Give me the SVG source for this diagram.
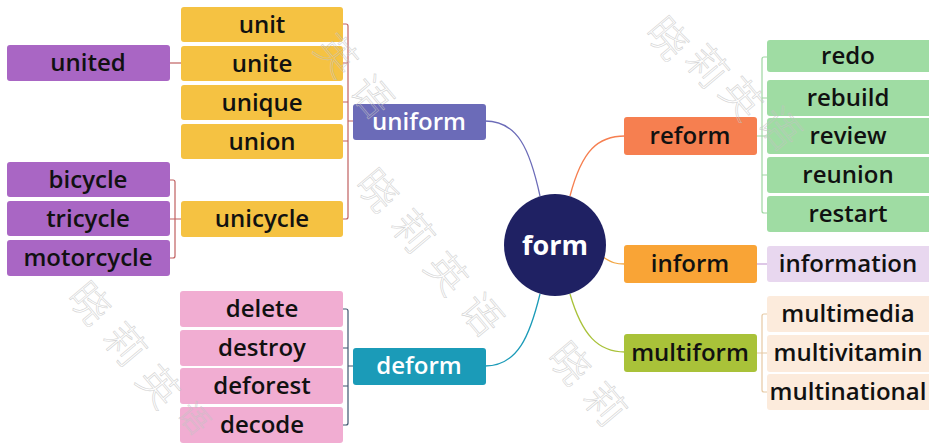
<svg xmlns="http://www.w3.org/2000/svg" width="929" height="444" viewBox="0 0 929 444">
<style>
.t{font-family:"Open Sans","Liberation Sans",sans-serif;font-weight:600;font-size:24px;text-anchor:middle;fill:#111}
.w{fill:#fff}
.c{fill:none;stroke-width:1.3}
.wm{font-family:"Noto Sans CJK SC",sans-serif;font-size:40px;font-weight:300;fill:none;stroke:#c4c4c4;stroke-width:0.6;opacity:0.75;text-anchor:middle}
</style>
<rect width="929" height="444" fill="#fff"/>
<g id="connectors">
<path class="c" stroke="#6b6bb8" d="M485,121 C518,121 530,150 540,196"/>
<path class="c" stroke="#1b9bb8" d="M485,366 C518,366 530,335 540,294"/>
<path class="c" stroke="#f67f50" d="M570,196 C582,150 598,136 625,136"/>
<path class="c" stroke="#f2a541" d="M603,257 C612,263 616,264 625,264"/>
<path class="c" stroke="#a9c239" d="M570,294 C582,335 598,352 625,352"/>
<g stroke="#c06060" fill="none" stroke-width="1.2">
<path d="M343,24 H346 Q348,24 348,26 V217 Q348,219 346,219 H343 M343,63 H348 M343,102 H348 M343,141 H348 M348,121 H353"/>
<path d="M170,180 H173 Q175,180 175,182 V256 Q175,258 173,258 H170 M170,219 H181"/>
<path d="M170,63 H181"/>
</g>
<path stroke="#3f5570" fill="none" stroke-width="1.2" d="M343,309 H346 Q348,309 348,311 V423 Q348,425 346,425 H343 M343,348 H348 M343,386 H348 M348,366 H353"/>
<path stroke="#9fd6a2" fill="none" stroke-width="1.2" d="M767,57 H764 Q762,57 762,59 V211 Q762,213 764,213 H767 M762,98 H767 M762,136 H767 M762,175 H767 M757,136 H762"/>
<path stroke="#c9a3d8" fill="none" stroke-width="1.2" d="M757,264 H767"/>
<path stroke="#e6c9a4" fill="none" stroke-width="1.2" d="M767,314 H764 Q762,314 762,316 V390 Q762,392 764,392 H767 M757,353 H767"/>
</g>
<g id="form"><circle cx="555" cy="245" r="51" fill="#1f2163"/><text class="t w" x="555" y="255" style="font-size:27px;font-weight:700">form</text></g>
<g id="uniform"><rect x="353" y="104" width="133" height="36" rx="3" fill="#6b6bb8"/><text class="t w" x="419" y="130">uniform</text></g>
<g id="deform"><rect x="353" y="348" width="133" height="37" rx="3" fill="#1b9bb8"/><text class="t w" x="419" y="374">deform</text></g>
<g id="reform"><rect x="624" y="117" width="133" height="38" rx="3" fill="#f67f50"/><text class="t" x="690" y="144">reform</text></g>
<g id="inform"><rect x="624" y="245" width="133" height="38" rx="3" fill="#f9a436"/><text class="t" x="690" y="272">inform</text></g>
<g id="multiform"><rect x="624" y="334" width="133" height="38" rx="3" fill="#a9c239"/><text class="t" x="690" y="361">multiform</text></g>
<g id="unit"><rect x="181" y="7" width="162" height="35" rx="3" fill="#f5c242"/><text class="t" x="262" y="33">unit</text></g>
<g id="unite"><rect x="181" y="46" width="162" height="35" rx="3" fill="#f5c242"/><text class="t" x="262" y="72">unite</text></g>
<g id="unique"><rect x="181" y="85" width="162" height="35" rx="3" fill="#f5c242"/><text class="t" x="262" y="111">unique</text></g>
<g id="union"><rect x="181" y="124" width="162" height="35" rx="3" fill="#f5c242"/><text class="t" x="262" y="150">union</text></g>
<g id="unicycle"><rect x="181" y="201" width="162" height="36" rx="3" fill="#f5c242"/><text class="t" x="262" y="227">unicycle</text></g>
<g id="united"><rect x="7" y="45" width="163" height="36" rx="3" fill="#a966c4"/><text class="t" x="88" y="71">united</text></g>
<g id="bicycle"><rect x="7" y="162" width="163" height="35" rx="3" fill="#a966c4"/><text class="t" x="88" y="188">bicycle</text></g>
<g id="tricycle"><rect x="7" y="201" width="163" height="35" rx="3" fill="#a966c4"/><text class="t" x="88" y="227">tricycle</text></g>
<g id="motorcycle"><rect x="7" y="240" width="163" height="36" rx="3" fill="#a966c4"/><text class="t" x="88" y="266">motorcycle</text></g>
<g id="delete"><rect x="180" y="291" width="163" height="36" rx="3" fill="#f1add2"/><text class="t" x="262" y="317">delete</text></g>
<g id="destroy"><rect x="180" y="330" width="163" height="36" rx="3" fill="#f1add2"/><text class="t" x="262" y="356">destroy</text></g>
<g id="deforest"><rect x="180" y="368" width="163" height="36" rx="3" fill="#f1add2"/><text class="t" x="262" y="394">deforest</text></g>
<g id="decode"><rect x="180" y="407" width="163" height="36" rx="3" fill="#f1add2"/><text class="t" x="262" y="433">decode</text></g>
<g id="redo"><rect x="767" y="40" width="164" height="32" rx="3" fill="#9fdca3"/><text class="t" x="848" y="64">redo</text></g>
<g id="rebuild"><rect x="767" y="80" width="164" height="36" rx="3" fill="#9fdca3"/><text class="t" x="848" y="106">rebuild</text></g>
<g id="review"><rect x="767" y="118" width="164" height="36" rx="3" fill="#9fdca3"/><text class="t" x="848" y="144">review</text></g>
<g id="reunion"><rect x="767" y="157" width="164" height="36" rx="3" fill="#9fdca3"/><text class="t" x="848" y="183">reunion</text></g>
<g id="restart"><rect x="767" y="196" width="164" height="36" rx="3" fill="#9fdca3"/><text class="t" x="848" y="222">restart</text></g>
<g id="information"><rect x="767" y="246" width="164" height="36" rx="3" fill="#e8d7ef"/><text class="t" x="848" y="272">information</text></g>
<g id="multimedia"><rect x="767" y="296" width="164" height="36" rx="3" fill="#fcebdc"/><text class="t" x="848" y="322">multimedia</text></g>
<g id="multivitamin"><rect x="767" y="335" width="164" height="37" rx="3" fill="#fcebdc"/><text class="t" x="848" y="361">multivitamin</text></g>
<g id="multinational"><rect x="767" y="374" width="164" height="36" rx="3" fill="#fcebdc"/><text class="t" x="848" y="400">multinational</text></g>
<g id="watermark">
<text class="wm" transform="translate(337,55) rotate(50)" y="15">英</text>
<text class="wm" transform="translate(372,96) rotate(50)" y="15">语</text>
<text class="wm" transform="translate(378,190) rotate(50)" y="15">晓</text>
<text class="wm" transform="translate(413,231) rotate(50)" y="15">莉</text>
<text class="wm" transform="translate(447,273) rotate(50)" y="15">英</text>
<text class="wm" transform="translate(482,314) rotate(50)" y="15">语</text>
<text class="wm" transform="translate(90,303) rotate(50)" y="15">晓</text>
<text class="wm" transform="translate(125,344) rotate(50)" y="15">莉</text>
<text class="wm" transform="translate(159,386) rotate(50)" y="15">英</text>
<text class="wm" transform="translate(194,418) rotate(50)" y="11" style="font-size:30px">语</text>
<text class="wm" transform="translate(570,363) rotate(50)" y="15">晓</text>
<text class="wm" transform="translate(605,404) rotate(50)" y="15">莉</text>
<text class="wm" transform="translate(668,38) rotate(50)" y="15">晓</text>
<text class="wm" transform="translate(707,66) rotate(50)" y="15">莉</text>
<text class="wm" transform="translate(742,98) rotate(50)" y="15">英</text>
<text class="wm" transform="translate(780,128) rotate(50)" y="15">语</text>
</g>
</svg>
